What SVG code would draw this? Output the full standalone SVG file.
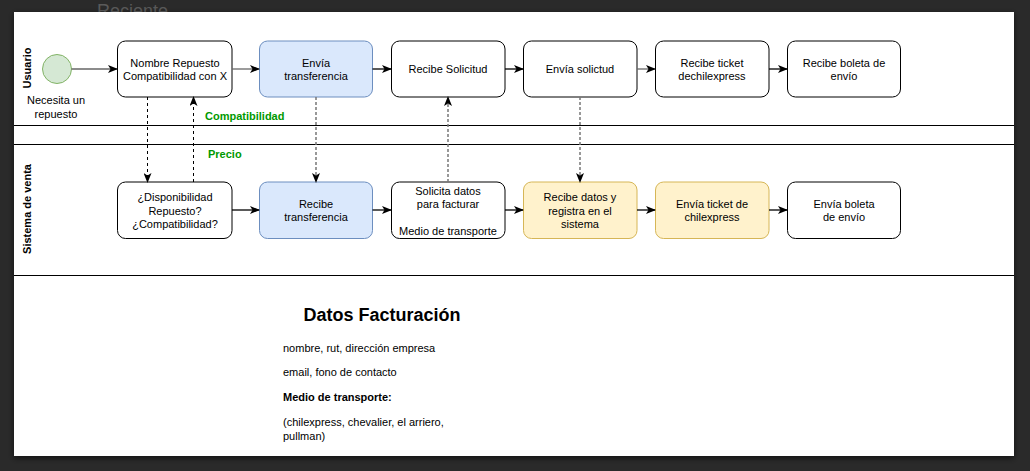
<svg xmlns="http://www.w3.org/2000/svg" width="1030" height="471" viewBox="0 0 1030 471">
<defs>
<marker id="ah" viewBox="0 0 10 8" refX="9" refY="4" markerWidth="10" markerHeight="8" markerUnits="userSpaceOnUse" orient="auto">
<path d="M0,0 L10,4 L0,8 L2.5,4 z" fill="#000"/>
</marker>
<filter id="sh" x="-5%" y="-5%" width="110%" height="110%">
<feDropShadow dx="0" dy="2" stdDeviation="3" flood-color="#000" flood-opacity="0.6"/>
</filter>
</defs>
<style>
text{font-family:"Liberation Sans",Arial,sans-serif;font-size:11px;fill:#000}
.c{text-anchor:middle}
.b{font-weight:bold}
.node{stroke:#000;stroke-width:1;fill:#fff}
.blue{fill:#dae8fc;stroke:#6c8ebf}
.yel{fill:#fff2cc;stroke:#d6b656}
.lane{stroke:#000;stroke-width:1}
.flow{stroke:#000;stroke-width:1.3;fill:none;marker-end:url(#ah)}
.flowg{stroke:#666;stroke-width:1.3;fill:none;marker-end:url(#ah)}
.msg{stroke:#000;stroke-width:1;stroke-dasharray:3,3;fill:none;marker-end:url(#ah)}
.msgg{stroke:#777;stroke-width:1.5;stroke-dasharray:3,2;fill:none;marker-end:url(#ah)}
.lbl{fill:#009900;font-weight:bold}
</style>
<rect x="0" y="0" width="1030" height="471" fill="#2a2a2a"/>
<text x="97" y="17" style="font-size:18px;fill:#5a5a5a">Reciente</text>
<rect x="14" y="12" width="1000" height="444" fill="#fff" filter="url(#sh)"/>
<g id="lanes">
<line class="lane" x1="14" y1="125.5" x2="1014" y2="125.5"/>
<line class="lane" x1="14" y1="144.5" x2="1014" y2="144.5"/>
<line class="lane" x1="14" y1="275.5" x2="1014" y2="275.5"/>
<text class="c b" transform="translate(31,68) rotate(-90)">Usuario</text>
<text class="c b" transform="translate(31,209) rotate(-90)">Sistema de venta</text>
</g>
<g id="start">
<circle cx="57" cy="69" r="14.5" fill="#d5e8d4" stroke="#82b366"/>
<text class="c" x="56" y="104">Necesita un</text>
<text class="c" x="56" y="118">repuesto</text>
</g>
<g id="n1"><rect class="node" x="117.5" y="41" width="114.5" height="56" rx="8"/>
<text class="c" x="175" y="67">Nombre Repuesto</text><text class="c" x="175" y="80">Compatibilidad con X</text></g>
<g id="n2"><rect class="node blue" x="259.5" y="41" width="113" height="56" rx="8"/>
<text class="c" x="316" y="67">Envía</text><text class="c" x="316" y="80">transferencia</text></g>
<g id="n3"><rect class="node" x="391.5" y="41" width="113.5" height="56" rx="8"/>
<text class="c" x="448" y="73">Recibe Solicitud</text></g>
<g id="n4"><rect class="node" x="523.5" y="41" width="113.5" height="56" rx="8"/>
<text class="c" x="580" y="73">Envía solictud</text></g>
<g id="n5"><rect class="node" x="655.5" y="41" width="113.5" height="56" rx="8"/>
<text class="c" x="712" y="67">Recibe ticket</text><text class="c" x="712" y="80">dechilexpress</text></g>
<g id="n6"><rect class="node" x="787.5" y="41" width="113" height="56" rx="8"/>
<text class="c" x="844" y="67">Recibe boleta de</text><text class="c" x="844" y="80">envío</text></g>
<g id="b1"><rect class="node" x="117.5" y="182" width="114.5" height="56.5" rx="8"/>
<text class="c" x="175" y="201">¿Disponibilidad</text><text class="c" x="175" y="215">Repuesto?</text><text class="c" x="175" y="228">¿Compatibilidad?</text></g>
<g id="b2"><rect class="node blue" x="259.5" y="182" width="113" height="56.5" rx="8"/>
<text class="c" x="316" y="208">Recibe</text><text class="c" x="316" y="221">transferencia</text></g>
<g id="b3"><rect class="node" x="391.5" y="182" width="113.5" height="56.5" rx="8"/>
<text class="c" x="448" y="195">Solicita datos</text><text class="c" x="448" y="208">para facturar</text><text class="c" x="448" y="235">Medio de transporte</text></g>
<g id="b4"><rect class="node yel" x="523.5" y="182" width="113.5" height="56.5" rx="8"/>
<text class="c" x="580" y="201">Recibe datos y</text><text class="c" x="580" y="215">registra en el</text><text class="c" x="580" y="228">sistema</text></g>
<g id="b5"><rect class="node yel" x="655.5" y="182" width="113.5" height="56.5" rx="8"/>
<text class="c" x="712" y="208">Envía ticket de</text><text class="c" x="712" y="221">chilexpress</text></g>
<g id="b6"><rect class="node" x="787.5" y="182" width="113" height="56.5" rx="8"/>
<text class="c" x="844" y="208">Envía boleta</text><text class="c" x="844" y="221">de envío</text></g>
<g id="connectors">
<line class="flowg" x1="71.5" y1="69" x2="117" y2="69"/>
<line class="flowg" x1="232" y1="69" x2="259" y2="69"/>
<line class="flow" x1="372.5" y1="69" x2="391" y2="69"/>
<line class="flow" x1="505" y1="69" x2="523" y2="69"/>
<line class="flowg" x1="637" y1="69" x2="655" y2="69"/>
<line class="flow" x1="769" y1="69" x2="787" y2="69"/>
<line class="flow" x1="232" y1="210" x2="259" y2="210"/>
<line class="flow" x1="372.5" y1="210" x2="391" y2="210"/>
<line class="flow" x1="505" y1="210" x2="523" y2="210"/>
<line class="flow" x1="637" y1="210" x2="655" y2="210"/>
<line class="flow" x1="769" y1="210" x2="787" y2="210"/>
<line class="msg" x1="147.5" y1="97" x2="147.5" y2="182"/>
<line class="msg" x1="193.5" y1="182" x2="193.5" y2="97"/>
<line class="msgg" x1="316" y1="97" x2="316" y2="182"/>
<line class="msgg" x1="448" y1="182" x2="448" y2="97"/>
<line class="msgg" x1="580" y1="97" x2="580" y2="182"/>
<text class="lbl" x="205" y="120">Compatibilidad</text>
<text class="lbl" x="208" y="158">Precio</text>
</g>
<g id="datos">
<text class="c b" x="382" y="321" style="font-size:18px">Datos Facturación</text>
<text x="283" y="352">nombre, rut, dirección empresa</text>
<text x="283" y="376">email, fono de contacto</text>
<text class="b" x="283" y="401">Medio de transporte:</text>
<text x="283" y="426">(chilexpress, chevalier, el arriero,</text>
<text x="283" y="440">pullman)</text>
</g>
</svg>
